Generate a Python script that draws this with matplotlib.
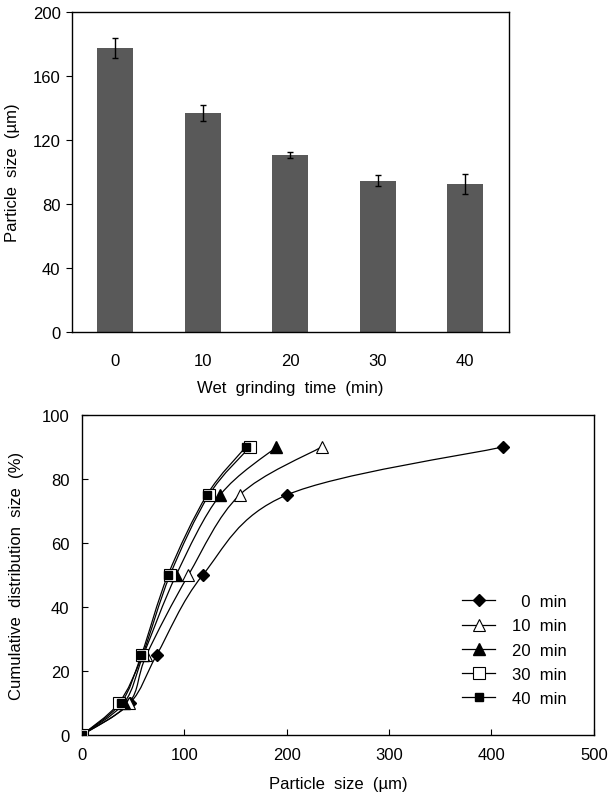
import matplotlib
matplotlib.use("Agg")
import matplotlib.pyplot as plt
from matplotlib.path import Path
from matplotlib.patches import PathPatch
import numpy as np

plt.rcParams["font.family"] = ["Liberation Sans", "DejaVu Sans"]
plt.rcParams["font.size"] = 12

# top panel: mean particle size vs wet grinding time
grind_times = ["0", "10", "20", "30", "40"]
mean_size = [177.5, 137, 110.5, 94.5, 92.5]
size_err = [6.5, 5, 2, 3.4, 6]

# bottom panel: cumulative distribution
cum_levels = [0, 10, 25, 50, 75, 90]
d_0min = [0, 47, 73, 118, 200, 411]
d_10min = [0, 46, 63, 104, 154, 234]
d_20min = [0, 41, 60, 92, 135, 190]
d_30min = [0, 36, 59, 86, 124, 164]
d_40min = [0, 38, 58, 84, 122, 160]
series_labels = ["  0  min", "10  min", "20  min", "30  min", "40  min"]


def smooth_path(xs, ys):
    # Excel-like smoothed line drawn as cubic Bezier segments
    pts = np.column_stack([xs, ys]).astype(float)
    n = len(pts)
    verts = [pts[0]]
    codes = [Path.MOVETO]
    for i in range(n - 1):
        p0 = pts[i - 1] if i > 0 else pts[i]
        p1 = pts[i]
        p2 = pts[i + 1]
        p3 = pts[i + 2] if i + 2 < n else pts[i + 1]
        c1 = p1 + (p2 - p0) / 6.0
        c2 = p2 - (p3 - p1) / 6.0
        verts += [c1, c2, p2]
        codes += [Path.CURVE4] * 3
    return Path(verts, codes)


fig = plt.figure(figsize=(6.1, 8.04), dpi=100)

# ---- top bar chart ----
ax1 = fig.add_axes([0.1175, 0.5858, 0.717, 0.398])
pos = np.arange(len(grind_times))
ax1.bar(pos, mean_size, width=0.41, color="#595959", zorder=2)
ax1.errorbar(pos, mean_size, yerr=size_err, fmt="none", ecolor="black",
             elinewidth=1.0, capsize=2.5, capthick=1.0, zorder=3)
ax1.set_xlim(-0.5, 4.5)
ax1.set_ylim(0, 200)
ax1.set_yticks([0, 40, 80, 120, 160, 200])
ax1.set_xticks(pos)
ax1.set_xticklabels(grind_times)
ax1.tick_params(axis="x", length=0, pad=15)
ax1.tick_params(axis="y", direction="out", length=4, pad=4)
ax1.set_xlabel("Wet  grinding  time  (min)", labelpad=9)
ax1.set_ylabel("Particle  size  (µm)", labelpad=9)
for s in ax1.spines.values():
    s.set_linewidth(1.0)

# ---- bottom cumulative distribution ----
ax2 = fig.add_axes([0.1344, 0.0846, 0.839, 0.398])
all_series = [d_0min, d_10min, d_20min, d_30min, d_40min]
markers = [
    dict(marker="D", markersize=6.5, mfc="black", mec="black"),
    dict(marker="^", markersize=8, mfc="white", mec="black", mew=0.8),
    dict(marker="^", markersize=8, mfc="black", mec="black"),
    dict(marker="s", markersize=8.5, mfc="white", mec="black", mew=0.8),
    dict(marker="s", markersize=5.5, mfc="black", mec="black"),
]
for xs, lab, mk in zip(all_series, series_labels, markers):
    ax2.add_patch(PathPatch(smooth_path(xs, cum_levels), fill=False,
                            edgecolor="black", linewidth=0.9, zorder=2))
    ax2.plot(xs, cum_levels, linestyle="none", zorder=3, **mk)
    ax2.plot([], [], color="black", linewidth=0.9, label=lab, **mk)

ax2.set_xlim(0, 500)
ax2.set_ylim(0, 100)
ax2.set_xticks([0, 100, 200, 300, 400, 500])
ax2.set_yticks([0, 20, 40, 60, 80, 100])
ax2.tick_params(direction="in", length=4, pad=9)
ax2.set_xlabel("Particle  size  (µm)", labelpad=10)
ax2.set_ylabel("Cumulative  distribution  size  (%)", labelpad=13)
for s in ax2.spines.values():
    s.set_linewidth(1.0)
ax2.legend(loc="lower right", bbox_to_anchor=(0.96, 0.07), frameon=False,
           handlelength=2.0, handletextpad=1.0, labelspacing=0.55,
           borderaxespad=0)

fig.savefig("out.png", dpi=100)
plt.close(fig)
